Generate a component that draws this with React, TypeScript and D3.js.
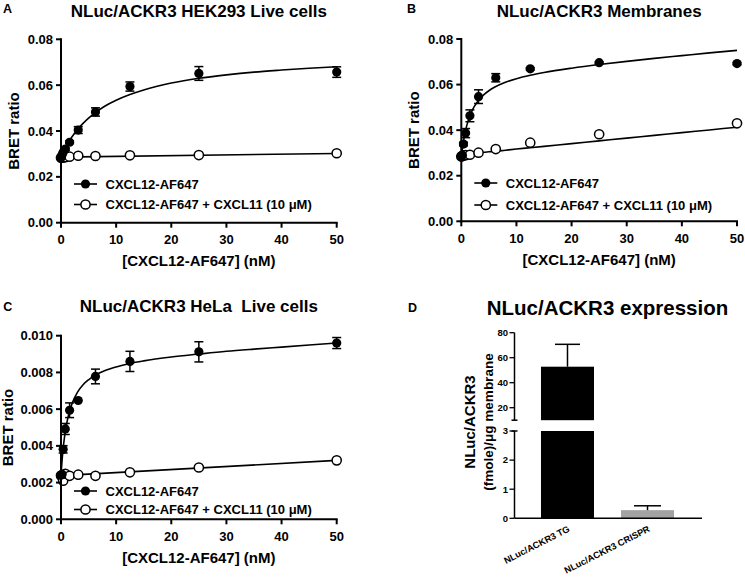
import React from 'react';
import * as d3 from 'd3';

const FONT = "'Liberation Sans', Arial, Helvetica, sans-serif";

// ---------- shared x data ----------
const conc = [0, 0.2, 0.39, 0.78, 1.56, 3.125, 6.25, 12.5, 25, 50];
const xTicks = [0, 10, 20, 30, 40, 50];
const fitX = [0, 0.25, 0.5, 0.75, 1, 1.5, 2, 3, 4, 5, 6, 8, 10, 12.5, 15, 20, 25, 30, 35, 40, 45, 50];
const lineX = [0, 50];

const legendLabels = ['CXCL12-AF647', 'CXCL12-AF647 + CXCL11 (10 \u03BCM)'];
const xTitle = '[CXCL12-AF647] (nM)';
const yTitle = 'BRET ratio';

// ---------- Panel A: HEK293 live cells ----------
const aTitle = 'NLuc/ACKR3 HEK293 Live cells';
const aYTicks = [0, 0.02, 0.04, 0.06, 0.08];
const aTotal = [0.0283, 0.0296, 0.0307, 0.0321, 0.0351, 0.0404, 0.0483, 0.0594, 0.0651, 0.0657];
const aTotalErr = [0, 0, 0, 0.0005, 0.0006, 0.0015, 0.0018, 0.002, 0.003, 0.0023];
const aBlocked = [0.0283, 0.0284, 0.0285, 0.0286, 0.0288, 0.0292, 0.0291, 0.0294, 0.0295, 0.0303];
const aTotalFit = [0.029, 0.0303, 0.0315, 0.0326, 0.0337, 0.0357, 0.0375, 0.0407, 0.0433, 0.0456, 0.0476, 0.0509, 0.0534, 0.0559, 0.0579, 0.0609, 0.063, 0.0645, 0.0657, 0.0666, 0.0674, 0.068];
const aBlockedFit = [0.0286, 0.0302];

// ---------- Panel B: membranes ----------
const bTitle = 'NLuc/ACKR3 Membranes';
const bYTicks = [0, 0.02, 0.04, 0.06, 0.08];
const bTotal = [0.0286, 0.029, 0.0339, 0.0387, 0.0463, 0.0547, 0.063, 0.0669, 0.0696, 0.0692];
const bTotalErr = [0, 0, 0.0008, 0.002, 0.0026, 0.003, 0.0018, 0.0005, 0.0004, 0.0005];
const bBlocked = [0.0284, 0.0287, 0.0289, 0.029, 0.0292, 0.0301, 0.0317, 0.0345, 0.0382, 0.043];
const bTotalFit = [0.028, 0.0328, 0.0366, 0.0396, 0.0421, 0.0459, 0.0488, 0.0527, 0.0554, 0.0573, 0.0588, 0.061, 0.0626, 0.0641, 0.0653, 0.0672, 0.0688, 0.0702, 0.0715, 0.0727, 0.0739, 0.075];
const bBlockedFit = [0.0284, 0.0287, 0.0289, 0.0291, 0.0292, 0.0295, 0.0297, 0.03, 0.0303, 0.0305, 0.0307, 0.0312, 0.0317, 0.0323, 0.0329, 0.0341, 0.0353, 0.0365, 0.0377, 0.0389, 0.0401, 0.0413];

// ---------- Panel C: HeLa live cells ----------
const cTitle = 'NLuc/ACKR3 HeLa\u00A0 Live cells';
const cYTicks = [0, 0.002, 0.004, 0.006, 0.008, 0.01];
const cTotal = [0.0024, 0.00245, 0.00381, 0.00492, 0.00594, 0.00647, 0.00778, 0.0086, 0.00912, 0.0096];
const cTotalErr = [0, 0, 0.0002, 0.0003, 0.0004, 0, 0.0004, 0.00055, 0.00055, 0.0003];
const cBlocked = [0.00238, 0.0024, 0.0021, 0.00248, 0.00237, 0.00243, 0.00237, 0.00256, 0.00282, 0.00321];
const cTotalFit = [0.0024, 0.00341, 0.00415, 0.00472, 0.00517, 0.00583, 0.0063, 0.00693, 0.00733, 0.0076, 0.00781, 0.0081, 0.0083, 0.00849, 0.00863, 0.00884, 0.009, 0.00915, 0.00927, 0.00938, 0.00949, 0.0096];
const cBlockedFit = [0.00238, 0.00321];

// ---------- Panel D: expression ----------
const dTitle = 'NLuc/ACKR3 expression';
const dCategories = ['NLuc/ACKR3 TG', 'NLuc/ACKR3 CRISPR'];
const dValues = [52.8, 0.28];
const dErr = [17.9, 0.15];
const dColors = ['#000000', '#a3a3a3'];
const dLowTicks = [0, 1, 2, 3];
const dHighTicks = [20, 40, 60, 80];
const dYTitle = ['NLuc/ACKR3', '(fmole)/\u03BCg membrane'];

type PanelCfg = {
  letter: string; letterX: number; letterY: number;
  title: string; titleY: number;
  x0: number; x1: number; y0: number; y1: number; yMax: number;
  yTicks: number[]; fmt: string; yTitleX: number;
  legendY: [number, number];
  total: number[]; totalErr: number[]; blocked: number[];
  totalFit: number[]; blockedFit: number[]; blockedFitX: number[];
};

function XYPanel({ p }: { p: PanelCfg }) {
  const x = d3.scaleLinear().domain([0, 50]).range([p.x0, p.x1]);
  const y = d3.scaleLinear().domain([0, p.yMax]).range([p.y0, p.y1]);
  const fmt = d3.format(p.fmt);
  const totalPath = d3.line<number>().x((_, i) => x(fitX[i])).y(d => y(d)).curve(d3.curveMonotoneX)(p.totalFit) || '';
  const blockedPath = d3.line<number>().x((_, i) => x(p.blockedFitX[i])).y(d => y(d)).curve(d3.curveMonotoneX)(p.blockedFit) || '';
  const cx = (p.x0 + p.x1) / 2;
  const lx0 = p.x0 + 13, lx1 = p.x0 + 36, lxc = p.x0 + 24.5, ltx = p.x0 + 44.5;
  return (
    <g fontFamily={FONT} fontWeight="bold" fill="#000">
      <text x={p.letterX} y={p.letterY} fontSize={12.5}>{p.letter}</text>
      <text x={cx} y={p.titleY} fontSize={17} textAnchor="middle">{p.title}</text>
      <path d={blockedPath} fill="none" stroke="#000" strokeWidth={1.6} />
      <path d={totalPath} fill="none" stroke="#000" strokeWidth={1.6} />
      {p.blocked.map((v, i) => (
        <circle key={'o' + i} cx={x(conc[i])} cy={y(v)} r={4.6} fill="#fff" stroke="#000" strokeWidth={1.5} />
      ))}
      {p.total.map((v, i) => p.totalErr[i] > 0 ? (
        <g key={'e' + i} stroke="#000" strokeWidth={1.5}>
          <line x1={x(conc[i])} x2={x(conc[i])} y1={y(v - p.totalErr[i])} y2={y(v + p.totalErr[i])} />
          <line x1={x(conc[i]) - 4.5} x2={x(conc[i]) + 4.5} y1={y(v - p.totalErr[i])} y2={y(v - p.totalErr[i])} />
          <line x1={x(conc[i]) - 4.5} x2={x(conc[i]) + 4.5} y1={y(v + p.totalErr[i])} y2={y(v + p.totalErr[i])} />
        </g>
      ) : null)}
      {p.total.map((v, i) => (
        <circle key={'f' + i} cx={x(conc[i])} cy={y(v)} r={4.6} fill="#000" />
      ))}
      <line x1={p.x0} x2={p.x0} y1={p.y1 - 1} y2={p.y0 + 1} stroke="#000" strokeWidth={2} />
      <line x1={p.x0 - 1} x2={p.x1 + 1} y1={p.y0} y2={p.y0} stroke="#000" strokeWidth={2} />
      {p.yTicks.map(t => (
        <g key={'yt' + t}>
          <line x1={p.x0 - 5} x2={p.x0} y1={y(t)} y2={y(t)} stroke="#000" strokeWidth={2} />
          <text x={p.x0 - 8} y={y(t)} dy="0.35em" fontSize={13} textAnchor="end">{fmt(t)}</text>
        </g>
      ))}
      {xTicks.map(t => (
        <g key={'xt' + t}>
          <line x1={x(t)} x2={x(t)} y1={p.y0} y2={p.y0 + 5} stroke="#000" strokeWidth={2} />
          <text x={x(t)} y={p.y0 + 21.5} fontSize={13} textAnchor="middle">{t}</text>
        </g>
      ))}
      <text x={cx} y={p.y0 + 43.5} fontSize={15} textAnchor="middle">{xTitle}</text>
      <text transform={`translate(${p.yTitleX},${(p.y0 + p.y1) / 2}) rotate(-90)`} dy="0.35em" fontSize={15} textAnchor="middle">{yTitle}</text>
      <line x1={lx0} x2={lx1} y1={p.legendY[0]} y2={p.legendY[0]} stroke="#000" strokeWidth={1.6} />
      <circle cx={lxc} cy={p.legendY[0]} r={4.6} fill="#000" />
      <text x={ltx} y={p.legendY[0]} dy="0.35em" fontSize={13}>{legendLabels[0]}</text>
      <line x1={lx0} x2={lx1} y1={p.legendY[1]} y2={p.legendY[1]} stroke="#000" strokeWidth={1.6} />
      <circle cx={lxc} cy={p.legendY[1]} r={4.6} fill="#fff" stroke="#000" strokeWidth={1.5} />
      <text x={ltx} y={p.legendY[1]} dy="0.35em" fontSize={13}>{legendLabels[1]}</text>
    </g>
  );
}

function BarPanel() {
  const axX = 514.5;
  const axEnd = 702;
  const yLow = d3.scaleLinear().domain([0, 3]).range([518.3, 431]);
  const yHigh = d3.scaleLinear().domain([10, 80]).range([420.2, 332.7]);
  const xb = d3.scaleBand<string>().domain(dCategories).range([514.5, 700.5]).paddingInner(0.3375).paddingOuter(0.331);
  const bw = xb.bandwidth();
  return (
    <g fontFamily={FONT} fontWeight="bold" fill="#000">
      <text x={408} y={311.5} fontSize={12.5}>D</text>
      <text x={607.5} y={315} fontSize={20.5} textAnchor="middle">{dTitle}</text>
      {dCategories.map((c, i) => {
        const bx = xb(c) as number;
        const v = dValues[i];
        const e = dErr[i];
        const mid = bx + bw / 2;
        const parts: any[] = [];
        const lowTop = yLow(Math.min(v, 3));
        parts.push(<rect key="lo" x={bx} y={lowTop} width={bw} height={yLow(0) - lowTop} fill={dColors[i]} />);
        if (v > 10) {
          const hiTop = yHigh(v);
          parts.push(<rect key="hi" x={bx} y={hiTop} width={bw} height={yHigh(10) - hiTop} fill={dColors[i]} />);
          const eTop = yHigh(v + e);
          parts.push(<line key="ev" x1={mid} x2={mid} y1={hiTop} y2={eTop} stroke="#000" strokeWidth={1.5} />);
          parts.push(<line key="ec" x1={mid - 12.5} x2={mid + 12.5} y1={eTop} y2={eTop} stroke="#000" strokeWidth={1.5} />);
        } else {
          const eTop = yLow(v + e);
          parts.push(<line key="ev" x1={mid} x2={mid} y1={lowTop} y2={eTop} stroke="#000" strokeWidth={1.5} />);
          parts.push(<line key="ec" x1={mid - 13.5} x2={mid + 13.5} y1={eTop} y2={eTop} stroke="#000" strokeWidth={1.5} />);
        }
        parts.push(
          <text key="lab" transform={`translate(${mid + 3},${531}) rotate(-27)`} fontSize={9.2} textAnchor="end">{c}</text>
        );
        return <g key={c}>{parts}</g>;
      })}
      <line x1={axX} x2={axX} y1={yLow(3)} y2={yLow(0)} stroke="#000" strokeWidth={1.5} />
      <line x1={axX} x2={axX} y1={yHigh(80)} y2={yHigh(10)} stroke="#000" strokeWidth={1.5} />
      <line x1={axX - 3} x2={axX + 3} y1={yHigh(10)} y2={yHigh(10)} stroke="#000" strokeWidth={1.5} />
      <line x1={axX - 3} x2={axX + 3} y1={yLow(3)} y2={yLow(3)} stroke="#000" strokeWidth={1.5} />
      <line x1={axX} x2={axEnd} y1={yLow(0)} y2={yLow(0)} stroke="#000" strokeWidth={1.5} />
      {dLowTicks.map(t => (
        <g key={'l' + t}>
          <line x1={axX - 5} x2={axX} y1={yLow(t)} y2={yLow(t)} stroke="#000" strokeWidth={1.3} />
          <text x={axX - 6.5} y={yLow(t)} dy="0.35em" fontSize={9.5} textAnchor="end">{t}</text>
        </g>
      ))}
      {dHighTicks.map(t => (
        <g key={'h' + t}>
          <line x1={axX - 5} x2={axX} y1={yHigh(t)} y2={yHigh(t)} stroke="#000" strokeWidth={1.3} />
          <text x={axX - 6.5} y={yHigh(t)} dy="0.35em" fontSize={9.5} textAnchor="end">{t}</text>
        </g>
      ))}
      <text transform={`translate(469.3,422) rotate(-90)`} dy="0.35em" fontSize={15} textAnchor="middle">{dYTitle[0]}</text>
      <text transform={`translate(488,422) rotate(-90)`} dy="0.35em" fontSize={13.5} textAnchor="middle">{dYTitle[1]}</text>
    </g>
  );
}

const panels: PanelCfg[] = [
  {
    letter: 'A', letterX: 3, letterY: 12.7, title: aTitle, titleY: 17,
    x0: 61, x1: 336.7, y0: 222.7, y1: 39.3, yMax: 0.08, yTicks: aYTicks, fmt: '.2f', yTitleX: 13.7,
    legendY: [184, 204.5], total: aTotal, totalErr: aTotalErr, blocked: aBlocked,
    totalFit: aTotalFit, blockedFit: aBlockedFit, blockedFitX: lineX,
  },
  {
    letter: 'B', letterX: 407, letterY: 12.7, title: bTitle, titleY: 17,
    x0: 461.3, x1: 737, y0: 221.3, y1: 39, yMax: 0.08, yTicks: bYTicks, fmt: '.2f', yTitleX: 413.7,
    legendY: [183, 205], total: bTotal, totalErr: bTotalErr, blocked: bBlocked,
    totalFit: bTotalFit, blockedFit: bBlockedFit, blockedFitX: fitX,
  },
  {
    letter: 'C', letterX: 3.3, letterY: 310.7, title: cTitle, titleY: 311.5,
    x0: 61, x1: 336.7, y0: 519.3, y1: 335.7, yMax: 0.01, yTicks: cYTicks, fmt: '.3f', yTitleX: 7.5,
    legendY: [491, 509.5], total: cTotal, totalErr: cTotalErr, blocked: cBlocked,
    totalFit: cTotalFit, blockedFit: cBlockedFit, blockedFitX: lineX,
  },
];

export default function App() {
  return (
    <svg width={745} height={581} viewBox="0 0 745 581"
      style={{ position: 'absolute', left: 0, top: 0, background: '#fff', display: 'block' }}>
      <rect x={0} y={0} width={745} height={581} fill="#fff" />
      {panels.map(p => <XYPanel key={p.letter} p={p} />)}
      <BarPanel />
    </svg>
  );
}
